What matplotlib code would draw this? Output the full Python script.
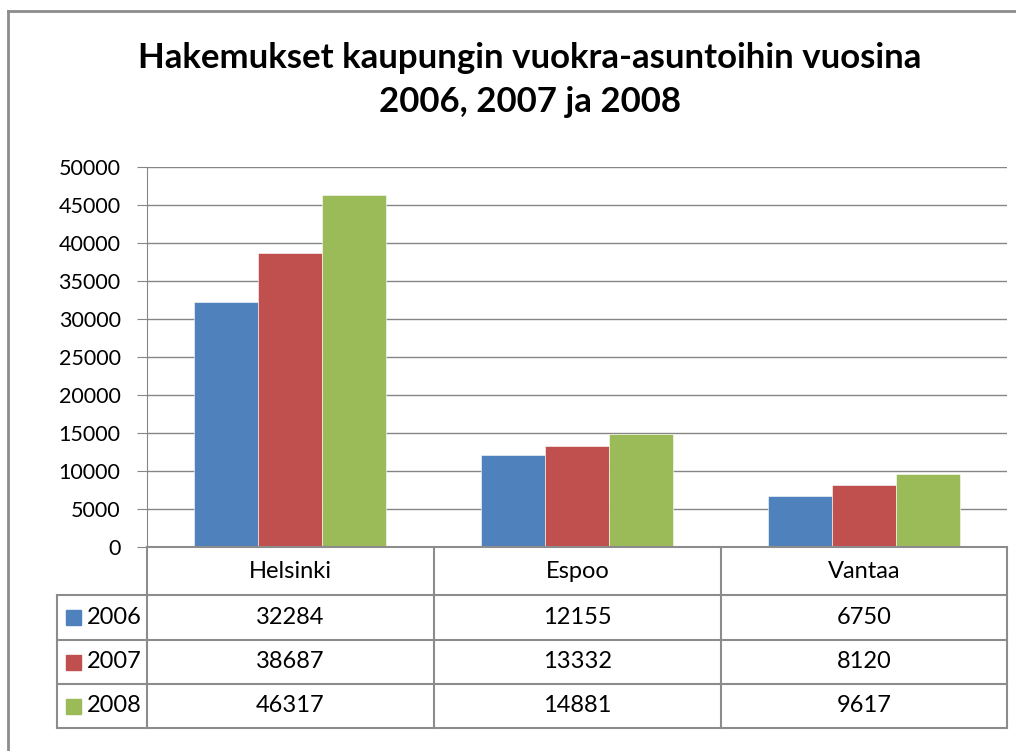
import matplotlib
matplotlib.use("Agg")
import matplotlib.pyplot as plt
from matplotlib.patches import Rectangle
from matplotlib.lines import Line2D

categories = ["Helsinki", "Espoo", "Vantaa"]
series_names = ["2006", "2007", "2008"]
values_2006 = [32284, 12155, 6750]
values_2007 = [38687, 13332, 8120]
values_2008 = [46317, 14881, 9617]
series_values = [values_2006, values_2007, values_2008]
colors = ["#4F81BD", "#C0504D", "#9BBB59"]
title = "Hakemukset kaupungin vuokra-asuntoihin vuosina\n2006, 2007 ja 2008"
yticks = list(range(0, 50001, 5000))

W, H = 1016, 751
FONT = "Lato"
FS = 17
fig = plt.figure(figsize=(W / 100, H / 100), dpi=100)
fig.patch.set_facecolor("white")

def fx(px):
    return px / W

def fy(py):
    return 1 - py / H

grid_c = "#868686"

# chart border (cropped on right and bottom)
fig.add_artist(Line2D([fx(8), fx(8)], [fy(11), fy(760)], color="#8c8c8c", lw=2, transform=fig.transFigure))
fig.add_artist(Line2D([fx(8), fx(1020)], [fy(11), fy(11)], color="#8c8c8c", lw=2, transform=fig.transFigure))

# title
fig.text(fx(530), fy(80), title, ha="center", va="center", fontsize=25,
         fontweight="bold", family=FONT, linespacing=1.45)

# plot area
L, R, T, B = 147, 1007, 167, 547
ax = fig.add_axes([fx(L), fy(B), fx(R) - fx(L), fy(T) - fy(B)])
ax.set_xlim(-0.5, len(categories) - 0.5)
ax.set_ylim(0, 50000)
ax.set_yticks(yticks)
ax.set_yticklabels([str(v) for v in yticks], family=FONT, fontsize=15.5)
ax.set_xticks([])
ax.yaxis.grid(True, color=grid_c, lw=1)
ax.set_axisbelow(True)
for s in ["top", "right", "bottom"]:
    ax.spines[s].set_visible(False)
ax.spines["left"].set_color(grid_c)
ax.tick_params(axis="y", length=7, color=grid_c, pad=12)

bw = 0.223
offsets = [-bw, 0, bw]
for vals, off, c in zip(series_values, offsets, colors):
    ax.bar([i + off for i in range(len(categories))], vals, width=bw, color=c,
           edgecolor="white", linewidth=0.4, zorder=3)

# data table
col_x = [147, 434, 721, 1007]
leg_left = 57
row_y = [547, 595, 640, 684, 728]
lc = "#8c8c8c"
def hline(x0, x1, y):
    fig.add_artist(Line2D([fx(x0), fx(x1)], [fy(y), fy(y)], color=lc, lw=1.5, transform=fig.transFigure))
def vline(x, y0, y1):
    fig.add_artist(Line2D([fx(x), fx(x)], [fy(y0), fy(y1)], color=lc, lw=1.5, transform=fig.transFigure))

hline(col_x[0], col_x[-1], row_y[0])
for y in row_y[1:]:
    hline(leg_left, col_x[-1], y)
for x in col_x:
    vline(x, row_y[0], row_y[-1])
vline(leg_left, row_y[1], row_y[-1])

# header
for i, cat in enumerate(categories):
    fig.text(fx((col_x[i] + col_x[i + 1]) / 2), fy((row_y[0] + row_y[1]) / 2), cat,
             ha="center", va="center", fontsize=FS, family=FONT)

for r, (name, vals, c) in enumerate(zip(series_names, series_values, colors)):
    yc = (row_y[r + 1] + row_y[r + 2]) / 2
    fig.add_artist(Rectangle((fx(66), fy(yc + 7.5)), fx(15), fy(0) - fy(15), color=c,
                             transform=fig.transFigure))
    fig.text(fx(87), fy(yc), name, ha="left", va="center", fontsize=FS, family=FONT)
    for i, v in enumerate(vals):
        fig.text(fx((col_x[i] + col_x[i + 1]) / 2), fy(yc), str(v),
                 ha="center", va="center", fontsize=FS, family=FONT)

fig.savefig("out.png", dpi=100)
